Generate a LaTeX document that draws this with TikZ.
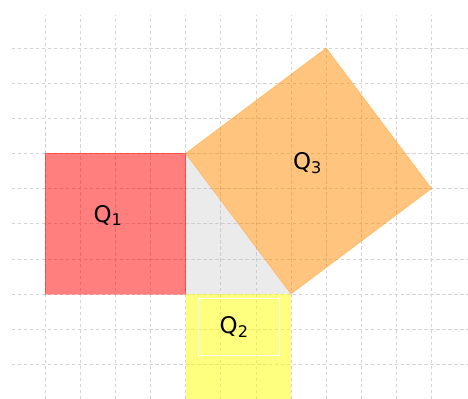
\documentclass[tikz,border=0pt]{standalone}
\usepackage{fontspec}
\setmainfont{DejaVu Sans}
\definecolor{gridc}{RGB}{212,212,212}
\definecolor{redb}{RGB}{255,0,0}
\definecolor{yelb}{RGB}{255,255,0}
\definecolor{orab}{RGB}{255,140,0}
\definecolor{grayb}{RGB}{190,190,190}
\tikzset{
  gridline/.style={draw=gridc, line width=0.6pt, dash pattern=on 3.5pt off 2.5pt},
  sqfill/.style={fill=#1, fill opacity=0.5, draw=#1, draw opacity=0.3, line width=0.8pt},
  qlabel/.style={font=\fontsize{23}{27}\selectfont, text=black, inner sep=0pt},
}
\begin{document}
\begin{tikzpicture}[x=35.15bp, y=35.15bp]
\useasboundingbox (-1.280,-2.987) rectangle (12.034,8.364);
% grid
\foreach \i in {0,...,11} \draw[gridline] (\i,-2.987) -- (\i,7.94);
\foreach \j in {-3,...,7} \draw[gridline] (-0.94,\j) -- (12.034,\j);
% vertices
\coordinate (A) at (4,0);
\coordinate (B) at (7,0);
\coordinate (C) at (4,4);
\coordinate (D) at (11,3);
\coordinate (E) at (8,7);
% triangle
\fill[grayb, fill opacity=0.3] (A) -- (B) -- (C) -- cycle;
% squares
\path[sqfill=redb] (0,0) rectangle (C);
\path[sqfill=yelb, draw opacity=0] (A) rectangle (7,-3);
\path[sqfill=orab] (C) -- (B) -- (D) -- (E) -- cycle;
% labels
\node[qlabel] (q1) at (1.79,2.23) {Q\textsubscript{1}};
\node[qlabel] (q3) at (7.47,3.73) {Q\textsubscript{3}};
\node[qlabel] (q2) at (5.38,-0.94) {Q\textsubscript{2}};
\node[draw=white, line width=1pt, inner sep=0pt, minimum width=2.33*35.15bp, minimum height=1.6*35.15bp] (q2box) at (5.52,-0.94) {};
\end{tikzpicture}
\end{document}
